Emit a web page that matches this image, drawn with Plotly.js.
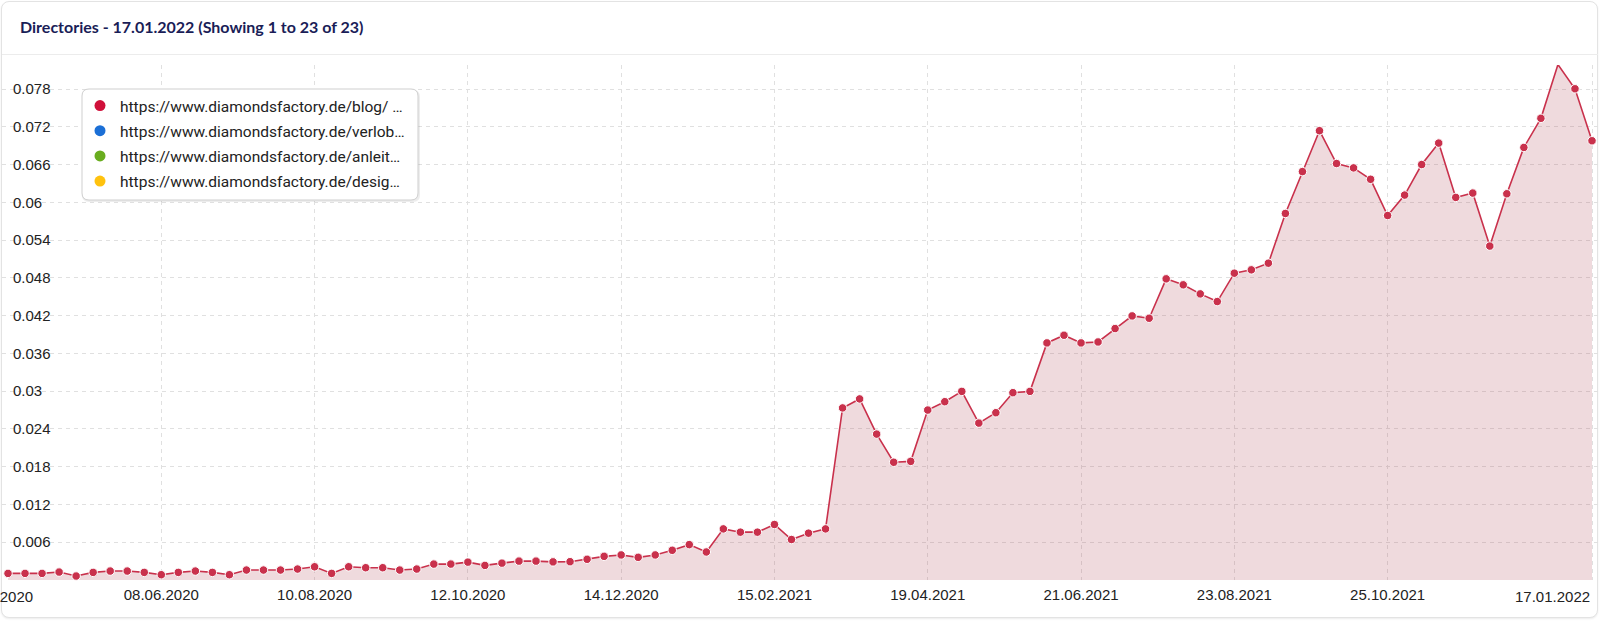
<!DOCTYPE html>
<html><head><meta charset="utf-8">
<script src="https://cdn.plot.ly/plotly-3.0.1.min.js"></script>
<style>
html,body{margin:0;padding:0;background:#fff;width:1600px;height:621px;overflow:hidden;}
#card{position:absolute;left:1px;top:1px;width:1595px;height:615px;border:1px solid #e3e3e3;border-radius:8px;box-shadow:0 1px 2px rgba(0,0,0,0.08);background:#fff;}
#header{position:absolute;left:2px;top:2px;width:1596px;height:52px;border-bottom:1px solid #ececec;}
#title{position:absolute;left:20px;top:17px;line-height:20px;font-family:Lato,"Open Sans",sans-serif;font-weight:700;font-size:16px;color:#1a1d57;white-space:nowrap;}
#chart{position:absolute;left:0;top:0;width:1600px;height:621px;}
</style></head>
<body>
<div id="card"></div>
<div id="header"></div>
<div id="title">Directories - 17.01.2022 (Showing 1 to 23 of 23)</div>
<div id="chart"></div>
<script>
// Weekly categories
const weeks = [
"06.04.2020","13.04.2020","20.04.2020","27.04.2020","04.05.2020","11.05.2020","18.05.2020","25.05.2020","01.06.2020","08.06.2020",
"15.06.2020","22.06.2020","29.06.2020","06.07.2020","13.07.2020","20.07.2020","27.07.2020","03.08.2020","10.08.2020","17.08.2020",
"24.08.2020","31.08.2020","07.09.2020","14.09.2020","21.09.2020","28.09.2020","05.10.2020","12.10.2020","19.10.2020","26.10.2020",
"02.11.2020","09.11.2020","16.11.2020","23.11.2020","30.11.2020","07.12.2020","14.12.2020","21.12.2020","28.12.2020","04.01.2021",
"11.01.2021","18.01.2021","25.01.2021","01.02.2021","08.02.2021","15.02.2021","22.02.2021","01.03.2021","08.03.2021","15.03.2021",
"22.03.2021","29.03.2021","05.04.2021","12.04.2021","19.04.2021","26.04.2021","03.05.2021","10.05.2021","17.05.2021","24.05.2021",
"31.05.2021","07.06.2021","14.06.2021","21.06.2021","28.06.2021","05.07.2021","12.07.2021","19.07.2021","26.07.2021","02.08.2021",
"09.08.2021","16.08.2021","23.08.2021","30.08.2021","06.09.2021","13.09.2021","20.09.2021","27.09.2021","04.10.2021","11.10.2021",
"18.10.2021","25.10.2021","01.11.2021","08.11.2021","15.11.2021","22.11.2021","29.11.2021","06.12.2021","13.12.2021","20.12.2021",
"27.12.2021","03.01.2022","10.01.2022","17.01.2022"
];
// Visibility index of the /blog/ directory
const blogValues = [
0.00105,0.00105,0.00105,0.00126,0.00063,0.00121,0.00142,0.00142,0.00121,0.00084,
0.00121,0.00142,0.00121,0.00084,0.00158,0.00158,0.00158,0.00174,0.00210,0.00105,
0.00210,0.00195,0.00195,0.00158,0.00174,0.00253,0.00253,0.00284,0.00232,0.00268,
0.00300,0.00300,0.00288,0.00291,0.00329,0.00376,0.00398,0.00360,0.00398,0.00472,
0.00562,0.00445,0.00812,0.00760,0.00760,0.00882,0.00643,0.00744,0.00812,0.02734,
0.02877,0.02318,0.01871,0.01885,0.02700,0.02833,0.02997,0.02493,0.02658,0.02976,
0.02997,0.03767,0.03889,0.03767,0.03782,0.03995,0.04196,0.04159,0.04785,0.04690,
0.04546,0.04424,0.04875,0.04928,0.05034,0.05824,0.06489,0.07139,0.06617,0.06548,
0.06367,0.05791,0.06116,0.06601,0.06942,0.06079,0.06148,0.05306,0.06137,0.06873,
0.07336,0.08190,0.07805,0.06979
];
const seriesNames = [
"https://www.diamondsfactory.de/blog/ …",
"https://www.diamondsfactory.de/verlob…",
"https://www.diamondsfactory.de/anleit…",
"https://www.diamondsfactory.de/desig…"
];
const seriesColors = ["#d0103a","#1b6fd6","#69ad1f","#ffc20e"];
const xTickLabels = ["08.06.2020","10.08.2020","12.10.2020","14.12.2020","15.02.2021","19.04.2021","21.06.2021","23.08.2021","25.10.2021","17.01.2022"];
const firstLabel = "06.04.2020";
const lastLabel = "17.01.2022";
const yTicks = [0.006,0.012,0.018,0.024,0.03,0.036,0.042,0.048,0.054,0.06,0.066,0.072,0.078];

const W = 1600, H = 621, ML = 2, MR = 2, MT = 65, MB = 41;
const PW = W - ML - MR, PH = H - MT - MB;
const px = v => (v - ML) / PW;
const py = v => (H - MB - v) / PH;
function rrect(x0, y0, x1, y1, r) {
  const P = (a, b) => px(a) + "," + py(b);
  return "M" + P(x0 + r, y0) + " L" + P(x1 - r, y0) + " Q" + P(x1, y0) + " " + P(x1, y0 + r) +
    " L" + P(x1, y1 - r) + " Q" + P(x1, y1) + " " + P(x1 - r, y1) +
    " L" + P(x0 + r, y1) + " Q" + P(x0, y1) + " " + P(x0, y1 - r) +
    " L" + P(x0, y0 + r) + " Q" + P(x0, y0) + " " + P(x0 + r, y0) + " Z";
}

const lineColor = "#c9314c";
const traces = [{
  type: "scatter", mode: "lines+markers", x: weeks, y: blogValues,
  line: {color: lineColor, width: 1.6},
  marker: {color: lineColor, size: 8.5, line: {color: "#ffffff", width: 1}},
  fill: "tozeroy", fillcolor: "rgba(175,70,85,0.2)",
  cliponaxis: false, showlegend: false, hoverinfo: "skip"
}];
seriesNames.forEach((n, i) => traces.push({
  type: "scatter", mode: "markers", x: [null], y: [null], name: n,
  marker: {color: seriesColors[i], size: 11}, legendgroup: "g" + i, showlegend: true
}));

const tickFont = {family: "Liberation Sans, Arial, sans-serif", size: 15, color: "#222"};
const layout = {
  width: W, height: H,
  margin: {l: ML, r: MR, t: MT, b: MB, pad: 0},
  paper_bgcolor: "rgba(0,0,0,0)", plot_bgcolor: "rgba(0,0,0,0)",
  showlegend: true,
  xaxis: {
    type: "category", range: [-6/17.032, 93 + 6/17.032], autorange: false,
    tickmode: "array",
    tickvals: xTickLabels,
    ticktext: xTickLabels.map(t => t === lastLabel ? "" : t),
    showgrid: true, gridcolor: "#e0e0e0", griddash: "4px,4px", gridwidth: 1,
    zeroline: false, showline: false, ticks: "", tickfont: tickFont,
    ticklabelstandoff: 4, automargin: false, fixedrange: true
  },
  yaxis: {
    range: [0, 0.08183], autorange: false,
    tickmode: "array", tickvals: yTicks, ticktext: yTicks.map(v => String(v)),
    ticklabelposition: "inside", ticklabelstandoff: 8,
    showgrid: true, gridcolor: "#e0e0e0", griddash: "4px,4px", gridwidth: 1,
    zeroline: false, showline: false, ticks: "", tickfont: tickFont,
    automargin: false, fixedrange: true
  },
  legend: {
    x: px(80), y: py(89), xanchor: "left", yanchor: "top",
    bgcolor: "rgba(0,0,0,0)", borderwidth: 0,
    font: {family: "Roboto, sans-serif", size: 15.5, color: "#222"},
    traceorder: "grouped", tracegroupgap: 2, itemclick: false
  },
  shapes: [
    {type: "path", xref: "paper", yref: "paper", layer: "above", path: rrect(82, 90, 420, 202, 7),
     fillcolor: "rgba(0,0,0,0.07)", line: {width: 0}},
    {type: "path", xref: "paper", yref: "paper", layer: "above", path: rrect(82, 89, 418, 200, 7),
     fillcolor: "#ffffff", line: {color: "#cfcfcf", width: 1}}
  ],
  annotations: [
    {xref: "x", yref: "paper", x: 0, y: 0, text: firstLabel, showarrow: false,
     xanchor: "right", yanchor: "middle", xshift: 27, yshift: -16, font: tickFont},
    {xref: "x", yref: "paper", x: 93, y: 0, text: lastLabel, showarrow: false,
     xanchor: "right", yanchor: "middle", xshift: 0, yshift: -16, font: tickFont}
  ],
  hovermode: false
};
Plotly.newPlot("chart", traces, layout, {displayModeBar: false, staticPlot: true});
</script>
</body></html>
